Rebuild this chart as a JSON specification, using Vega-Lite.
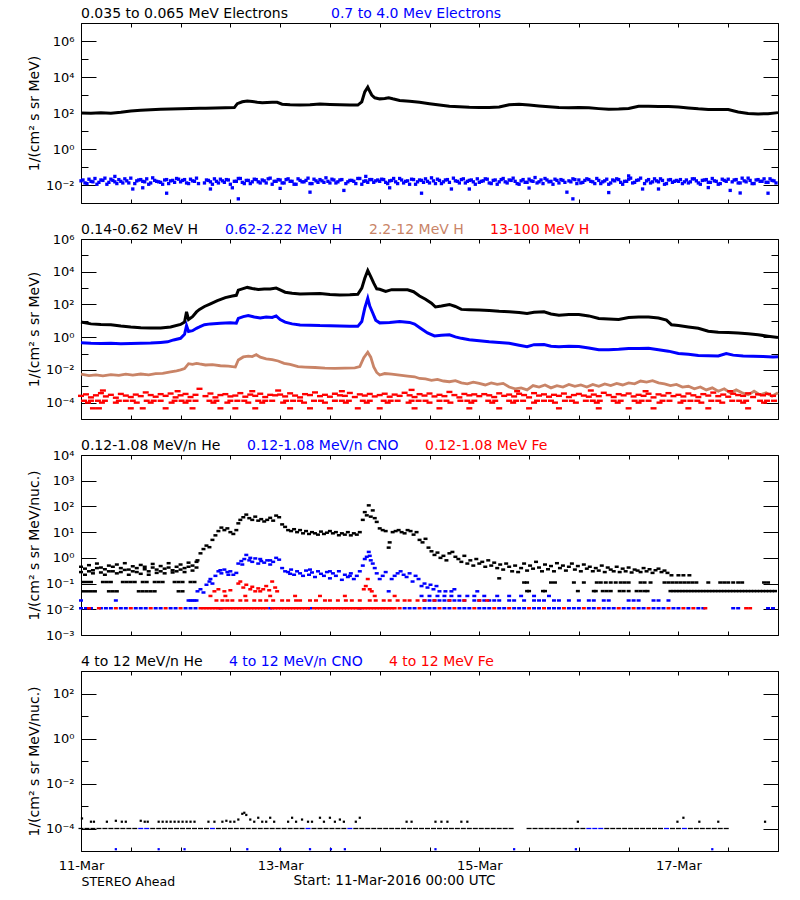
{
"$schema": "https://vega.github.io/schema/vega-lite/v6.json",
"background": "white",
"padding": {"left": 26, "top": 6, "right": 5, "bottom": 0},
"bounds": "flush",
"spacing": 36,
"title": {"text": "Start: 11-Mar-2016 00:00 UTC", "orient": "bottom", "anchor": "start", "frame": "bounds", "dx": 267, "offset": -14, "fontSize": 13.5, "fontWeight": "normal", "font": "DejaVu Sans", "color": "black", "baseline": "top"},
"resolve": {"scale": {"color": "independent"}, "legend": {"color": "independent"}},
"config": {
  "view": {"stroke": "black", "strokeWidth": 1},
  "font": "DejaVu Sans",
  "axis": {"domain": false, "grid": false, "tickColor": "black", "tickWidth": 1, "labelColor": "black", "titleColor": "black", "labelFont": "DejaVu Sans", "titleFont": "DejaVu Sans", "titleFontWeight": "normal", "labelFontSize": 13, "titleFontSize": 14, "labelOverlap": false}
},
"datasets": {
"e1": [{"t":0,"v":100},{"t":0.1,"v":98},{"t":0.2,"v":102},{"t":0.3,"v":97},{"t":0.4,"v":110},{"t":0.5,"v":130},{"t":0.6,"v":140},{"t":0.7,"v":152},{"t":0.8,"v":160},{"t":0.9,"v":168},{"t":1.0,"v":174},{"t":1.1,"v":178},{"t":1.19,"v":182},{"t":1.25,"v":185},{"t":1.35,"v":190},{"t":1.45,"v":195},{"t":1.54,"v":200},{"t":1.57,"v":330},{"t":1.62,"v":420},{"t":1.67,"v":470},{"t":1.72,"v":440},{"t":1.77,"v":400},{"t":1.82,"v":370},{"t":1.87,"v":380},{"t":1.92,"v":395},{"t":1.97,"v":390},{"t":2.02,"v":310},{"t":2.1,"v":290},{"t":2.2,"v":275},{"t":2.3,"v":290},{"t":2.4,"v":315},{"t":2.5,"v":300},{"t":2.6,"v":290},{"t":2.7,"v":280},{"t":2.78,"v":275},{"t":2.82,"v":420},{"t":2.85,"v":1500},{"t":2.88,"v":2750},{"t":2.9,"v":1600},{"t":2.92,"v":1000},{"t":2.95,"v":700},{"t":3.0,"v":610},{"t":3.05,"v":640},{"t":3.09,"v":710},{"t":3.13,"v":620},{"t":3.2,"v":500},{"t":3.3,"v":450},{"t":3.4,"v":400},{"t":3.5,"v":330},{"t":3.6,"v":280},{"t":3.7,"v":240},{"t":3.8,"v":225},{"t":3.9,"v":210},{"t":4.0,"v":205},{"t":4.1,"v":205},{"t":4.2,"v":215},{"t":4.3,"v":290},{"t":4.4,"v":310},{"t":4.5,"v":280},{"t":4.6,"v":245},{"t":4.7,"v":220},{"t":4.8,"v":200},{"t":4.9,"v":198},{"t":5.0,"v":200},{"t":5.1,"v":195},{"t":5.2,"v":175},{"t":5.3,"v":160},{"t":5.4,"v":165},{"t":5.5,"v":178},{"t":5.6,"v":235},{"t":5.7,"v":240},{"t":5.8,"v":232},{"t":5.9,"v":230},{"t":6.0,"v":215},{"t":6.1,"v":190},{"t":6.2,"v":170},{"t":6.3,"v":158},{"t":6.4,"v":155},{"t":6.5,"v":156},{"t":6.6,"v":115},{"t":6.7,"v":95},{"t":6.8,"v":88},{"t":6.9,"v":92},{"t":7.0,"v":105}],
"e2": [{"t":0,"v":0.017},{"t":0.04,"v":0.013},{"t":0.08,"v":0.021},{"t":0.12,"v":0.015},{"t":0.16,"v":0.011},{"t":0.2,"v":0.019},{"t":0.24,"v":0.024},{"t":0.28,"v":0.014},{"t":0.32,"v":0.018},{"t":0.36,"v":0.012},{"t":0.4,"v":0.016},{"t":0.44,"v":0.022},{"t":0.48,"v":0.013},{"t":0.52,"v":0.006},{"t":0.56,"v":0.017},{"t":0.6,"v":0.02},{"t":0.64,"v":0.015},{"t":0.68,"v":0.011},{"t":0.72,"v":0.025},{"t":0.76,"v":0.016},{"t":0.8,"v":0.014},{"t":0.84,"v":0.019},{"t":0.88,"v":0.012},{"t":0.92,"v":0.018},{"t":0.96,"v":0.023},
{"t":1.0,"v":0.015},{"t":1.04,"v":0.02},{"t":1.08,"v":0.012},{"t":1.12,"v":0.017},{"t":1.16,"v":0.024},{"t":1.24,"v":0.013},{"t":1.28,"v":0.018},{"t":1.32,"v":0.011},{"t":1.36,"v":0.016},{"t":1.4,"v":0.021},{"t":1.44,"v":0.014},{"t":1.48,"v":0.019},{"t":1.52,"v":0.007},{"t":1.56,"v":0.016},{"t":1.6,"v":0.023},{"t":1.64,"v":0.012},{"t":1.68,"v":0.018},{"t":1.72,"v":0.015},{"t":1.76,"v":0.02},{"t":1.8,"v":0.013},{"t":1.84,"v":0.017},{"t":1.88,"v":0.022},{"t":1.92,"v":0.011},{"t":1.96,"v":0.016},
{"t":2.0,"v":0.019},{"t":2.04,"v":0.013},{"t":2.08,"v":0.022},{"t":2.12,"v":0.016},{"t":2.16,"v":0.011},{"t":2.2,"v":0.018},{"t":2.24,"v":0.015},{"t":2.28,"v":0.024},{"t":2.32,"v":0.012},{"t":2.36,"v":0.017},{"t":2.4,"v":0.02},{"t":2.44,"v":0.014},{"t":2.48,"v":0.016},{"t":2.52,"v":0.021},{"t":2.56,"v":0.013},{"t":2.6,"v":0.019},{"t":2.64,"v":0.005},{"t":2.68,"v":0.015},{"t":2.72,"v":0.018},{"t":2.76,"v":0.012},{"t":2.8,"v":0.023},{"t":2.84,"v":0.016},{"t":2.88,"v":0.014},{"t":2.92,"v":0.02},{"t":2.96,"v":0.017},
{"t":3.0,"v":0.016},{"t":3.04,"v":0.02},{"t":3.08,"v":0.012},{"t":3.12,"v":0.018},{"t":3.16,"v":0.015},{"t":3.2,"v":0.023},{"t":3.24,"v":0.013},{"t":3.28,"v":0.017},{"t":3.32,"v":0.021},{"t":3.36,"v":0.011},{"t":3.4,"v":0.019},{"t":3.44,"v":0.014},{"t":3.48,"v":0.016},{"t":3.52,"v":0.025},{"t":3.56,"v":0.012},{"t":3.6,"v":0.018},{"t":3.64,"v":0.015},{"t":3.68,"v":0.02},{"t":3.72,"v":0.006},{"t":3.76,"v":0.017},{"t":3.8,"v":0.013},{"t":3.84,"v":0.022},{"t":3.88,"v":0.016},{"t":3.92,"v":0.019},{"t":3.96,"v":0.011},
{"t":4.0,"v":0.014},{"t":4.04,"v":0.017},{"t":4.08,"v":0.021},{"t":4.12,"v":0.012},{"t":4.16,"v":0.019},{"t":4.2,"v":0.015},{"t":4.24,"v":0.023},{"t":4.28,"v":0.013},{"t":4.32,"v":0.018},{"t":4.36,"v":0.016},{"t":4.4,"v":0.011},{"t":4.44,"v":0.02},{"t":4.48,"v":0.014},{"t":4.52,"v":0.017},{"t":4.56,"v":0.026},{"t":4.6,"v":0.015},{"t":4.64,"v":0.012},{"t":4.68,"v":0.019},{"t":4.72,"v":0.016},{"t":4.76,"v":0.021},{"t":4.8,"v":0.013},{"t":4.84,"v":0.018},{"t":4.88,"v":0.004},{"t":4.92,"v":0.015},{"t":4.96,"v":0.02},
{"t":5.0,"v":0.019},{"t":5.04,"v":0.014},{"t":5.08,"v":0.022},{"t":5.12,"v":0.016},{"t":5.16,"v":0.012},{"t":5.2,"v":0.018},{"t":5.24,"v":0.015},{"t":5.28,"v":0.021},{"t":5.32,"v":0.013},{"t":5.36,"v":0.017},{"t":5.4,"v":0.02},{"t":5.44,"v":0.011},{"t":5.48,"v":0.016},{"t":5.52,"v":0.024},{"t":5.56,"v":0.014},{"t":5.6,"v":0.019},{"t":5.64,"v":0.006},{"t":5.68,"v":0.017},{"t":5.72,"v":0.013},{"t":5.76,"v":0.022},{"t":5.8,"v":0.015},{"t":5.84,"v":0.018},{"t":5.88,"v":0.012},{"t":5.92,"v":0.02},{"t":5.96,"v":0.016},
{"t":6.0,"v":0.016},{"t":6.04,"v":0.012},{"t":6.08,"v":0.019},{"t":6.12,"v":0.015},{"t":6.16,"v":0.022},{"t":6.2,"v":0.013},{"t":6.24,"v":0.018},{"t":6.28,"v":0.02},{"t":6.32,"v":0.014},{"t":6.36,"v":0.017},{"t":6.4,"v":0.011},{"t":6.44,"v":0.021},{"t":6.48,"v":0.016},{"t":6.52,"v":0.005},{"t":6.56,"v":0.019},{"t":6.6,"v":0.013},{"t":6.64,"v":0.024},{"t":6.68,"v":0.015},{"t":6.72,"v":0.018},{"t":6.76,"v":0.012},{"t":6.8,"v":0.02},{"t":6.84,"v":0.016},{"t":6.88,"v":0.014},{"t":6.92,"v":0.022},{"t":6.96,"v":0.017},
{"t":0.02,"v":0.019},{"t":0.06,"v":0.012},{"t":0.1,"v":0.016},{"t":0.14,"v":0.023},{"t":0.18,"v":0.014},{"t":0.22,"v":0.018},{"t":0.26,"v":0.011},{"t":0.3,"v":0.021},{"t":0.34,"v":0.015},{"t":0.38,"v":0.02},{"t":0.42,"v":0.013},{"t":0.46,"v":0.017},{"t":0.5,"v":0.024},{"t":0.54,"v":0.012},{"t":0.58,"v":0.019},{"t":0.62,"v":0.016},{"t":0.66,"v":0.022},{"t":0.7,"v":0.013},{"t":0.74,"v":0.018},{"t":0.78,"v":0.015},{"t":0.82,"v":0.011},{"t":0.86,"v":0.02},{"t":0.9,"v":0.017},{"t":0.94,"v":0.014},{"t":0.98,"v":0.021},
{"t":1.02,"v":0.018},{"t":1.06,"v":0.013},{"t":1.1,"v":0.021},{"t":1.14,"v":0.016},{"t":1.18,"v":0.012},{"t":1.26,"v":0.019},{"t":1.3,"v":0.015},{"t":1.34,"v":0.022},{"t":1.38,"v":0.013},{"t":1.42,"v":0.017},{"t":1.46,"v":0.02},{"t":1.5,"v":0.011},{"t":1.54,"v":0.016},{"t":1.58,"v":0.023},{"t":1.62,"v":0.014},{"t":1.66,"v":0.018},{"t":1.7,"v":0.012},{"t":1.74,"v":0.021},{"t":1.78,"v":0.015},{"t":1.82,"v":0.019},{"t":1.86,"v":0.013},{"t":1.9,"v":0.024},{"t":1.94,"v":0.016},{"t":1.98,"v":0.02},
{"t":2.02,"v":0.013},{"t":2.06,"v":0.02},{"t":2.1,"v":0.016},{"t":2.14,"v":0.011},{"t":2.18,"v":0.022},{"t":2.22,"v":0.015},{"t":2.26,"v":0.018},{"t":2.3,"v":0.012},{"t":2.34,"v":0.021},{"t":2.38,"v":0.014},{"t":2.42,"v":0.017},{"t":2.46,"v":0.025},{"t":2.5,"v":0.013},{"t":2.54,"v":0.019},{"t":2.58,"v":0.015},{"t":2.62,"v":0.02},{"t":2.66,"v":0.012},{"t":2.7,"v":0.018},{"t":2.74,"v":0.016},{"t":2.78,"v":0.023},{"t":2.82,"v":0.011},{"t":2.86,"v":0.017},{"t":2.9,"v":0.02},{"t":2.94,"v":0.014},{"t":2.98,"v":0.019},
{"t":3.02,"v":0.021},{"t":3.06,"v":0.014},{"t":3.1,"v":0.017},{"t":3.14,"v":0.023},{"t":3.18,"v":0.012},{"t":3.22,"v":0.019},{"t":3.26,"v":0.016},{"t":3.3,"v":0.011},{"t":3.34,"v":0.02},{"t":3.38,"v":0.015},{"t":3.42,"v":0.018},{"t":3.46,"v":0.022},{"t":3.5,"v":0.013},{"t":3.54,"v":0.017},{"t":3.58,"v":0.021},{"t":3.62,"v":0.012},{"t":3.66,"v":0.019},{"t":3.7,"v":0.014},{"t":3.74,"v":0.024},{"t":3.78,"v":0.016},{"t":3.82,"v":0.02},{"t":3.86,"v":0.013},{"t":3.9,"v":0.018},{"t":3.94,"v":0.015},{"t":3.98,"v":0.022},
{"t":4.02,"v":0.016},{"t":4.06,"v":0.022},{"t":4.1,"v":0.013},{"t":4.14,"v":0.018},{"t":4.18,"v":0.011},{"t":4.22,"v":0.02},{"t":4.26,"v":0.015},{"t":4.3,"v":0.019},{"t":4.34,"v":0.024},{"t":4.38,"v":0.012},{"t":4.42,"v":0.017},{"t":4.46,"v":0.014},{"t":4.5,"v":0.021},{"t":4.54,"v":0.016},{"t":4.58,"v":0.013},{"t":4.62,"v":0.019},{"t":4.66,"v":0.023},{"t":4.7,"v":0.015},{"t":4.74,"v":0.011},{"t":4.78,"v":0.018},{"t":4.82,"v":0.02},{"t":4.86,"v":0.014},{"t":4.9,"v":0.017},{"t":4.94,"v":0.022},{"t":4.98,"v":0.012},
{"t":5.02,"v":0.013},{"t":5.06,"v":0.018},{"t":5.1,"v":0.02},{"t":5.14,"v":0.015},{"t":5.18,"v":0.023},{"t":5.22,"v":0.012},{"t":5.26,"v":0.017},{"t":5.3,"v":0.011},{"t":5.34,"v":0.019},{"t":5.38,"v":0.022},{"t":5.42,"v":0.014},{"t":5.46,"v":0.016},{"t":5.5,"v":0.021},{"t":5.54,"v":0.013},{"t":5.58,"v":0.018},{"t":5.62,"v":0.024},{"t":5.66,"v":0.012},{"t":5.7,"v":0.02},{"t":5.74,"v":0.015},{"t":5.78,"v":0.017},{"t":5.82,"v":0.022},{"t":5.86,"v":0.011},{"t":5.9,"v":0.019},{"t":5.94,"v":0.014},{"t":5.98,"v":0.018},
{"t":6.02,"v":0.02},{"t":6.06,"v":0.015},{"t":6.1,"v":0.013},{"t":6.14,"v":0.022},{"t":6.18,"v":0.017},{"t":6.22,"v":0.011},{"t":6.26,"v":0.019},{"t":6.3,"v":0.014},{"t":6.34,"v":0.023},{"t":6.38,"v":0.016},{"t":6.42,"v":0.012},{"t":6.46,"v":0.018},{"t":6.5,"v":0.021},{"t":6.54,"v":0.015},{"t":6.58,"v":0.02},{"t":6.62,"v":0.013},{"t":6.66,"v":0.017},{"t":6.7,"v":0.024},{"t":6.74,"v":0.012},{"t":6.78,"v":0.019},{"t":6.82,"v":0.016},{"t":6.86,"v":0.022},{"t":6.9,"v":0.014},{"t":6.94,"v":0.018},{"t":6.98,"v":0.013},
{"t":0.34,"v":0.03},{"t":0.86,"v":0.0035},{"t":1.58,"v":0.0017},{"t":2.3,"v":0.004},{"t":2.86,"v":0.03},{"t":3.42,"v":0.0035},{"t":4.94,"v":0.0017},{"t":5.3,"v":0.0038},{"t":5.5,"v":0.032},{"t":6.62,"v":0.0036},{"t":6.9,"v":0.0035},{"t":0.62,"v":0.007},{"t":1.3,"v":0.006},{"t":2.0,"v":0.0065},{"t":3.1,"v":0.007},{"t":3.9,"v":0.006},{"t":4.5,"v":0.0068},{"t":5.8,"v":0.006},{"t":6.3,"v":0.0072}],
"h1": [{"t":0,"v":8.5},{"t":0.1,"v":6.5},{"t":0.2,"v":6},{"t":0.3,"v":5.8},{"t":0.4,"v":4.8},{"t":0.5,"v":4.2},{"t":0.6,"v":3.8},{"t":0.7,"v":3.6},{"t":0.8,"v":3.7},{"t":0.9,"v":4.2},{"t":1.0,"v":6},{"t":1.04,"v":8.5},{"t":1.06,"v":35},{"t":1.08,"v":12},{"t":1.12,"v":18},{"t":1.16,"v":35},{"t":1.19,"v":50},{"t":1.24,"v":75},{"t":1.3,"v":110},{"t":1.37,"v":170},{"t":1.45,"v":260},{"t":1.52,"v":330},{"t":1.56,"v":360},{"t":1.58,"v":750},{"t":1.62,"v":900},{"t":1.67,"v":1100},{"t":1.72,"v":950},{"t":1.78,"v":820},{"t":1.84,"v":880},{"t":1.9,"v":870},{"t":1.96,"v":1000},{"t":2.0,"v":780},{"t":2.05,"v":560},{"t":2.12,"v":480},{"t":2.2,"v":430},{"t":2.3,"v":450},{"t":2.4,"v":470},{"t":2.5,"v":400},{"t":2.6,"v":380},{"t":2.7,"v":390},{"t":2.78,"v":420},{"t":2.82,"v":1000},{"t":2.85,"v":4000},{"t":2.88,"v":12000},{"t":2.91,"v":5000},{"t":2.94,"v":2000},{"t":2.97,"v":900},{"t":3.0,"v":850},{"t":3.06,"v":620},{"t":3.12,"v":800},{"t":3.2,"v":780},{"t":3.28,"v":780},{"t":3.34,"v":600},{"t":3.4,"v":330},{"t":3.46,"v":210},{"t":3.52,"v":120},{"t":3.56,"v":70},{"t":3.62,"v":80},{"t":3.7,"v":100},{"t":3.76,"v":75},{"t":3.82,"v":50},{"t":3.9,"v":48},{"t":4.0,"v":46},{"t":4.1,"v":42},{"t":4.2,"v":38},{"t":4.3,"v":36},{"t":4.4,"v":32},{"t":4.48,"v":28},{"t":4.55,"v":33},{"t":4.65,"v":36},{"t":4.72,"v":26},{"t":4.8,"v":22},{"t":4.9,"v":24},{"t":5.0,"v":24},{"t":5.1,"v":20},{"t":5.2,"v":14},{"t":5.3,"v":13},{"t":5.4,"v":12},{"t":5.5,"v":16},{"t":5.6,"v":17},{"t":5.7,"v":17},{"t":5.8,"v":15},{"t":5.88,"v":11},{"t":5.93,"v":5.8},{"t":6.0,"v":5.2},{"t":6.1,"v":4.2},{"t":6.2,"v":3.5},{"t":6.3,"v":2.3},{"t":6.4,"v":2.0},{"t":6.5,"v":1.9},{"t":6.6,"v":1.8},{"t":6.7,"v":1.6},{"t":6.8,"v":1.4},{"t":6.9,"v":1.15},{"t":7.0,"v":0.95}],
"h2": [{"t":0,"v":0.45},{"t":0.1,"v":0.42},{"t":0.2,"v":0.41},{"t":0.3,"v":0.42},{"t":0.4,"v":0.4},{"t":0.5,"v":0.41},{"t":0.6,"v":0.43},{"t":0.7,"v":0.44},{"t":0.8,"v":0.48},{"t":0.87,"v":0.52},{"t":0.93,"v":0.68},{"t":1.0,"v":0.85},{"t":1.04,"v":1.5},{"t":1.06,"v":5},{"t":1.08,"v":2.2},{"t":1.12,"v":2.5},{"t":1.16,"v":3.5},{"t":1.19,"v":4.2},{"t":1.24,"v":5.8},{"t":1.3,"v":6.5},{"t":1.4,"v":7.2},{"t":1.5,"v":7.5},{"t":1.56,"v":7.2},{"t":1.58,"v":14},{"t":1.63,"v":18},{"t":1.68,"v":21},{"t":1.74,"v":17},{"t":1.8,"v":15},{"t":1.86,"v":17},{"t":1.92,"v":16},{"t":1.96,"v":20},{"t":2.0,"v":12},{"t":2.05,"v":8.3},{"t":2.12,"v":6.5},{"t":2.2,"v":5.6},{"t":2.3,"v":5.4},{"t":2.4,"v":5.1},{"t":2.5,"v":5.0},{"t":2.6,"v":4.8},{"t":2.7,"v":4.7},{"t":2.78,"v":4.6},{"t":2.82,"v":9},{"t":2.85,"v":60},{"t":2.88,"v":240},{"t":2.9,"v":80},{"t":2.93,"v":30},{"t":2.96,"v":11},{"t":3.0,"v":7.5},{"t":3.1,"v":8},{"t":3.2,"v":9},{"t":3.3,"v":8},{"t":3.35,"v":6.3},{"t":3.41,"v":3.5},{"t":3.48,"v":1.8},{"t":3.55,"v":1.2},{"t":3.62,"v":1.3},{"t":3.7,"v":1.4},{"t":3.76,"v":1.05},{"t":3.82,"v":0.85},{"t":3.9,"v":0.7},{"t":4.0,"v":0.6},{"t":4.1,"v":0.52},{"t":4.2,"v":0.47},{"t":4.3,"v":0.42},{"t":4.4,"v":0.32},{"t":4.48,"v":0.26},{"t":4.55,"v":0.35},{"t":4.65,"v":0.36},{"t":4.72,"v":0.28},{"t":4.8,"v":0.26},{"t":4.9,"v":0.28},{"t":5.0,"v":0.27},{"t":5.1,"v":0.22},{"t":5.2,"v":0.17},{"t":5.3,"v":0.17},{"t":5.4,"v":0.18},{"t":5.5,"v":0.2},{"t":5.6,"v":0.2},{"t":5.7,"v":0.21},{"t":5.8,"v":0.17},{"t":5.9,"v":0.14},{"t":6.0,"v":0.1},{"t":6.1,"v":0.09},{"t":6.2,"v":0.075},{"t":6.3,"v":0.074},{"t":6.4,"v":0.072},{"t":6.48,"v":0.1},{"t":6.55,"v":0.08},{"t":6.65,"v":0.07},{"t":6.75,"v":0.068},{"t":6.85,"v":0.065},{"t":6.95,"v":0.062},{"t":7.0,"v":0.063}],
"h3": [{"t":0,"v":0.0055},{"t":0.08,"v":0.0045},{"t":0.15,"v":0.005},{"t":0.22,"v":0.0043},{"t":0.3,"v":0.0052},{"t":0.38,"v":0.0046},{"t":0.45,"v":0.0055},{"t":0.52,"v":0.0048},{"t":0.6,"v":0.0056},{"t":0.68,"v":0.005},{"t":0.75,"v":0.006},{"t":0.82,"v":0.0062},{"t":0.9,"v":0.0075},{"t":0.96,"v":0.0088},{"t":1.0,"v":0.01},{"t":1.04,"v":0.012},{"t":1.08,"v":0.024},{"t":1.12,"v":0.022},{"t":1.16,"v":0.025},{"t":1.19,"v":0.023},{"t":1.25,"v":0.02},{"t":1.32,"v":0.021},{"t":1.4,"v":0.018},{"t":1.48,"v":0.017},{"t":1.55,"v":0.015},{"t":1.58,"v":0.04},{"t":1.63,"v":0.062},{"t":1.68,"v":0.07},{"t":1.72,"v":0.065},{"t":1.76,"v":0.085},{"t":1.8,"v":0.06},{"t":1.86,"v":0.048},{"t":1.92,"v":0.042},{"t":1.98,"v":0.035},{"t":2.04,"v":0.025},{"t":2.1,"v":0.022},{"t":2.18,"v":0.016},{"t":2.25,"v":0.015},{"t":2.35,"v":0.014},{"t":2.45,"v":0.013},{"t":2.55,"v":0.0125},{"t":2.65,"v":0.013},{"t":2.75,"v":0.0135},{"t":2.8,"v":0.016},{"t":2.84,"v":0.055},{"t":2.88,"v":0.12},{"t":2.91,"v":0.06},{"t":2.94,"v":0.015},{"t":2.97,"v":0.007},{"t":3.0,"v":0.0049},{"t":3.05,"v":0.006},{"t":3.12,"v":0.0055},{"t":3.2,"v":0.0048},{"t":3.28,"v":0.0042},{"t":3.35,"v":0.0038},{"t":3.4,"v":0.003},{"t":3.46,"v":0.0028},{"t":3.52,"v":0.0023},{"t":3.58,"v":0.0026},{"t":3.64,"v":0.0021},{"t":3.7,"v":0.0019},{"t":3.76,"v":0.0022},{"t":3.82,"v":0.0016},{"t":3.88,"v":0.0014},{"t":3.94,"v":0.0018},{"t":4.0,"v":0.0015},{"t":4.06,"v":0.0012},{"t":4.12,"v":0.0016},{"t":4.18,"v":0.0013},{"t":4.24,"v":0.0015},{"t":4.3,"v":0.0009},{"t":4.36,"v":0.0007},{"t":4.42,"v":0.0008},{"t":4.48,"v":0.0006},{"t":4.54,"v":0.0011},{"t":4.6,"v":0.0009},{"t":4.66,"v":0.0012},{"t":4.72,"v":0.0008},{"t":4.78,"v":0.0011},{"t":4.84,"v":0.0009},{"t":4.9,"v":0.0013},{"t":4.96,"v":0.001},{"t":5.02,"v":0.0012},{"t":5.08,"v":0.0009},{"t":5.14,"v":0.0013},{"t":5.2,"v":0.001},{"t":5.26,"v":0.0014},{"t":5.32,"v":0.0011},{"t":5.38,"v":0.0015},{"t":5.44,"v":0.0012},{"t":5.5,"v":0.0016},{"t":5.56,"v":0.0014},{"t":5.62,"v":0.0021},{"t":5.68,"v":0.0018},{"t":5.74,"v":0.0022},{"t":5.8,"v":0.0016},{"t":5.86,"v":0.0014},{"t":5.92,"v":0.0011},{"t":5.98,"v":0.0013},{"t":6.04,"v":0.0009},{"t":6.1,"v":0.001},{"t":6.16,"v":0.0007},{"t":6.22,"v":0.0009},{"t":6.28,"v":0.0006},{"t":6.34,"v":0.0008},{"t":6.4,"v":0.0005},{"t":6.46,"v":0.0007},{"t":6.52,"v":0.0004},{"t":6.58,"v":0.0006},{"t":6.64,"v":0.0004},{"t":6.7,"v":0.0003},{"t":6.76,"v":0.0005},{"t":6.82,"v":0.0003},{"t":6.88,"v":0.0004},{"t":6.94,"v":0.00025},{"t":7.0,"v":0.0004}],
"h4": [{"t":0,"v":2.6e-4},{"t":0.05,"v":3.2e-4},{"t":0.1,"v":2.1e-4},{"t":0.15,"v":2.8e-4},{"t":0.2,"v":3.8e-4},{"t":0.25,"v":2.4e-4},{"t":0.3,"v":3e-4},{"t":0.35,"v":2e-4},{"t":0.4,"v":3.4e-4},{"t":0.45,"v":2.7e-4},{"t":0.5,"v":2.2e-4},{"t":0.55,"v":3.1e-4},{"t":0.6,"v":2.5e-4},{"t":0.65,"v":4.2e-4},{"t":0.7,"v":2.9e-4},{"t":0.75,"v":2.3e-4},{"t":0.8,"v":3.3e-4},{"t":0.85,"v":2.6e-4},{"t":0.9,"v":3.6e-4},{"t":0.95,"v":2.1e-4},
{"t":1.0,"v":2.8e-4},{"t":1.05,"v":3.4e-4},{"t":1.1,"v":2.2e-4},{"t":1.15,"v":3e-4},{"t":1.19,"v":7e-4},{"t":1.25,"v":2.5e-4},{"t":1.3,"v":3.6e-4},{"t":1.35,"v":2.1e-4},{"t":1.4,"v":2.9e-4},{"t":1.45,"v":3.3e-4},{"t":1.5,"v":2.4e-4},{"t":1.55,"v":2.7e-4},{"t":1.6,"v":3.8e-4},{"t":1.65,"v":2.3e-4},{"t":1.7,"v":3.1e-4},{"t":1.75,"v":2.6e-4},{"t":1.8,"v":3.5e-4},{"t":1.85,"v":2.2e-4},{"t":1.9,"v":3e-4},{"t":1.95,"v":2.8e-4},
{"t":2.0,"v":3.1e-4},{"t":2.05,"v":2.4e-4},{"t":2.1,"v":3.7e-4},{"t":2.15,"v":2.7e-4},{"t":2.2,"v":2.1e-4},{"t":2.25,"v":3.3e-4},{"t":2.3,"v":2.9e-4},{"t":2.35,"v":4.2e-4},{"t":2.4,"v":2.5e-4},{"t":2.45,"v":3e-4},{"t":2.5,"v":2.3e-4},{"t":2.55,"v":3.5e-4},{"t":2.6,"v":2.8e-4},{"t":2.65,"v":2.6e-4},{"t":2.7,"v":3.9e-4},{"t":2.75,"v":2.2e-4},{"t":2.8,"v":3.2e-4},{"t":2.85,"v":2.7e-4},{"t":2.9,"v":3.4e-4},{"t":2.95,"v":2.4e-4},
{"t":3.0,"v":2.9e-4},{"t":3.05,"v":3.5e-4},{"t":3.1,"v":2.3e-4},{"t":3.15,"v":3.1e-4},{"t":3.2,"v":2.6e-4},{"t":3.25,"v":4e-4},{"t":3.3,"v":2.8e-4},{"t":3.35,"v":2.2e-4},{"t":3.4,"v":3.3e-4},{"t":3.45,"v":2.7e-4},{"t":3.5,"v":3.6e-4},{"t":3.55,"v":2.4e-4},{"t":3.6,"v":3e-4},{"t":3.65,"v":2.5e-4},{"t":3.7,"v":4.5e-4},{"t":3.75,"v":2.9e-4},{"t":3.8,"v":2.1e-4},{"t":3.85,"v":3.4e-4},{"t":3.9,"v":2.8e-4},{"t":3.95,"v":3.2e-4},
{"t":4.0,"v":2.5e-4},{"t":4.05,"v":3.3e-4},{"t":4.1,"v":2.8e-4},{"t":4.15,"v":2.2e-4},{"t":4.2,"v":3.7e-4},{"t":4.25,"v":2.6e-4},{"t":4.3,"v":3.1e-4},{"t":4.35,"v":2.4e-4},{"t":4.4,"v":3.5e-4},{"t":4.45,"v":2.9e-4},{"t":4.5,"v":2.1e-4},{"t":4.55,"v":3.8e-4},{"t":4.6,"v":2.7e-4},{"t":4.65,"v":3.2e-4},{"t":4.7,"v":2.3e-4},{"t":4.75,"v":3e-4},{"t":4.8,"v":2.6e-4},{"t":4.85,"v":3.6e-4},{"t":4.9,"v":2.2e-4},{"t":4.95,"v":2.9e-4},
{"t":5.0,"v":3.4e-4},{"t":5.05,"v":2.7e-4},{"t":5.1,"v":2.3e-4},{"t":5.15,"v":3.1e-4},{"t":5.2,"v":2.5e-4},{"t":5.25,"v":4e-4},{"t":5.3,"v":2.9e-4},{"t":5.35,"v":2.2e-4},{"t":5.4,"v":3.3e-4},{"t":5.45,"v":2.8e-4},{"t":5.5,"v":3.6e-4},{"t":5.55,"v":2.4e-4},{"t":5.6,"v":3e-4},{"t":5.65,"v":2.6e-4},{"t":5.7,"v":3.5e-4},{"t":5.75,"v":2.1e-4},{"t":5.8,"v":3.2e-4},{"t":5.85,"v":2.7e-4},{"t":5.9,"v":3.8e-4},{"t":5.95,"v":2.5e-4},
{"t":6.0,"v":3e-4},{"t":6.05,"v":2.4e-4},{"t":6.1,"v":3.6e-4},{"t":6.15,"v":2.8e-4},{"t":6.2,"v":2.2e-4},{"t":6.25,"v":3.3e-4},{"t":6.3,"v":2.7e-4},{"t":6.35,"v":4.1e-4},{"t":6.4,"v":2.5e-4},{"t":6.45,"v":3.1e-4},{"t":6.5,"v":2.3e-4},{"t":6.55,"v":3.5e-4},{"t":6.6,"v":2.9e-4},{"t":6.65,"v":2.6e-4},{"t":6.7,"v":3.7e-4},{"t":6.75,"v":2.2e-4},{"t":6.8,"v":3.2e-4},{"t":6.85,"v":2.8e-4},{"t":6.9,"v":3.4e-4},{"t":6.95,"v":2.6e-4},
{"t":0.22,"v":5.5e-4},{"t":0.97,"v":5e-4},{"t":1.72,"v":5e-4},{"t":1.98,"v":5.5e-4},{"t":2.62,"v":5e-4},{"t":3.32,"v":6e-4},{"t":4.38,"v":5e-4},{"t":5.12,"v":5.5e-4},{"t":5.67,"v":5e-4},{"t":6.52,"v":5e-4},
{"t":0.03,"v":1.3e-4},{"t":0.1,"v":1.3e-4},{"t":0.17,"v":1.3e-4},{"t":0.24,"v":1.3e-4},{"t":0.38,"v":1.3e-4},{"t":0.45,"v":1.3e-4},{"t":0.52,"v":1.3e-4},{"t":0.66,"v":1.3e-4},{"t":0.73,"v":1.3e-4},{"t":0.8,"v":1.3e-4},{"t":0.94,"v":1.3e-4},{"t":1.01,"v":1.3e-4},{"t":1.08,"v":1.3e-4},{"t":1.15,"v":1.3e-4},{"t":1.29,"v":1.3e-4},{"t":1.36,"v":1.3e-4},{"t":1.5,"v":1.3e-4},{"t":1.57,"v":1.3e-4},{"t":1.64,"v":1.3e-4},{"t":1.78,"v":1.3e-4},{"t":1.85,"v":1.3e-4},{"t":1.92,"v":1.3e-4},{"t":2.06,"v":1.3e-4},{"t":2.13,"v":1.3e-4},{"t":2.2,"v":1.3e-4},{"t":2.34,"v":1.3e-4},{"t":2.41,"v":1.3e-4},{"t":2.55,"v":1.3e-4},{"t":2.62,"v":1.3e-4},{"t":2.69,"v":1.3e-4},{"t":2.83,"v":1.3e-4},{"t":2.9,"v":1.3e-4},{"t":3.04,"v":1.3e-4},{"t":3.11,"v":1.3e-4},{"t":3.18,"v":1.3e-4},{"t":3.32,"v":1.3e-4},{"t":3.39,"v":1.3e-4},{"t":3.46,"v":1.3e-4},{"t":3.6,"v":1.3e-4},{"t":3.67,"v":1.3e-4},{"t":3.81,"v":1.3e-4},{"t":3.88,"v":1.3e-4},{"t":3.95,"v":1.3e-4},{"t":4.09,"v":1.3e-4},{"t":4.16,"v":1.3e-4},{"t":4.3,"v":1.3e-4},{"t":4.37,"v":1.3e-4},{"t":4.44,"v":1.3e-4},{"t":4.58,"v":1.3e-4},{"t":4.65,"v":1.3e-4},{"t":4.72,"v":1.3e-4},{"t":4.86,"v":1.3e-4},{"t":4.93,"v":1.3e-4},{"t":5.07,"v":1.3e-4},{"t":5.14,"v":1.3e-4},{"t":5.21,"v":1.3e-4},{"t":5.35,"v":1.3e-4},{"t":5.42,"v":1.3e-4},{"t":5.56,"v":1.3e-4},{"t":5.63,"v":1.3e-4},{"t":5.7,"v":1.3e-4},{"t":5.84,"v":1.3e-4},{"t":5.91,"v":1.3e-4},{"t":6.05,"v":1.3e-4},{"t":6.12,"v":1.3e-4},{"t":6.19,"v":1.3e-4},{"t":6.33,"v":1.3e-4},{"t":6.4,"v":1.3e-4},{"t":6.54,"v":1.3e-4},{"t":6.61,"v":1.3e-4},{"t":6.68,"v":1.3e-4},{"t":6.82,"v":1.3e-4},{"t":6.89,"v":1.3e-4},{"t":6.96,"v":1.3e-4},
{"t":0.07,"v":1e-4},{"t":0.21,"v":1e-4},{"t":0.35,"v":1e-4},{"t":0.56,"v":1e-4},{"t":0.7,"v":1e-4},{"t":0.91,"v":1e-4},{"t":1.05,"v":1e-4},{"t":1.33,"v":1e-4},{"t":1.47,"v":1e-4},{"t":1.68,"v":1e-4},{"t":1.82,"v":1e-4},{"t":2.03,"v":1e-4},{"t":2.24,"v":1e-4},{"t":2.45,"v":1e-4},{"t":2.66,"v":1e-4},{"t":2.87,"v":1e-4},{"t":3.08,"v":1e-4},{"t":3.29,"v":1e-4},{"t":3.5,"v":1e-4},{"t":3.71,"v":1e-4},{"t":3.92,"v":1e-4},{"t":4.13,"v":1e-4},{"t":4.34,"v":1e-4},{"t":4.55,"v":1e-4},{"t":4.76,"v":1e-4},{"t":4.97,"v":1e-4},{"t":5.18,"v":1e-4},{"t":5.39,"v":1e-4},{"t":5.6,"v":1e-4},{"t":5.81,"v":1e-4},{"t":6.02,"v":1e-4},{"t":6.23,"v":1e-4},{"t":6.44,"v":1e-4},{"t":6.65,"v":1e-4},{"t":6.86,"v":1e-4},
{"t":0.12,"v":4.5e-5},{"t":0.18,"v":4.5e-5},{"t":0.5,"v":4.5e-5},{"t":0.62,"v":4.5e-5},{"t":0.85,"v":4.5e-5},{"t":1.12,"v":4.5e-5},{"t":1.4,"v":4.5e-5},{"t":1.55,"v":4.5e-5},{"t":1.75,"v":4.5e-5},{"t":2.1,"v":4.5e-5},{"t":2.3,"v":4.5e-5},{"t":2.5,"v":4.5e-5},{"t":2.78,"v":4.5e-5},{"t":3.0,"v":4.5e-5},{"t":3.35,"v":4.5e-5},{"t":3.6,"v":4.5e-5},{"t":3.9,"v":4.5e-5},{"t":4.2,"v":4.5e-5},{"t":4.5,"v":4.5e-5},{"t":4.8,"v":4.5e-5},{"t":5.2,"v":4.5e-5},{"t":5.5,"v":4.5e-5},{"t":5.75,"v":4.5e-5},{"t":6.1,"v":4.5e-5},{"t":6.3,"v":4.5e-5},{"t":6.7,"v":4.5e-5}],
"he": [{"t":0,"v":0.45},{"t":0,"v":0.28},{"t":0.04,"v":0.38},{"t":0.04,"v":0.22},{"t":0.08,"v":0.52},{"t":0.08,"v":0.3},{"t":0.12,"v":0.33},{"t":0.12,"v":0.25},{"t":0.16,"v":0.6},{"t":0.16,"v":0.4},{"t":0.2,"v":0.42},{"t":0.2,"v":0.27},{"t":0.24,"v":0.36},{"t":0.24,"v":0.22},{"t":0.28,"v":0.5},{"t":0.28,"v":0.3},{"t":0.32,"v":0.3},{"t":0.32,"v":0.45},{"t":0.36,"v":0.55},{"t":0.36,"v":0.25},{"t":0.4,"v":0.4},{"t":0.4,"v":0.28},{"t":0.44,"v":0.62},{"t":0.44,"v":0.34},{"t":0.48,"v":0.35},{"t":0.48,"v":0.22},{"t":0.52,"v":0.47},{"t":0.52,"v":0.3},{"t":0.56,"v":0.28},{"t":0.56,"v":0.4},{"t":0.6,"v":0.53},{"t":0.6,"v":0.24},{"t":0.64,"v":0.36},{"t":0.64,"v":0.45},{"t":0.68,"v":0.3},{"t":0.68,"v":0.22},{"t":0.72,"v":0.42},{"t":0.72,"v":0.58},{"t":0.76,"v":0.26},{"t":0.76,"v":0.35},{"t":0.8,"v":0.48},{"t":0.8,"v":0.3},{"t":0.84,"v":0.38},{"t":0.84,"v":0.25},{"t":0.88,"v":0.62},{"t":0.88,"v":0.42},{"t":0.92,"v":0.33},{"t":0.92,"v":0.27},{"t":0.96,"v":0.45},{"t":0.96,"v":0.3},{"t":1.0,"v":0.55},{"t":1.0,"v":0.35},{"t":1.04,"v":0.4},{"t":1.04,"v":0.28},{"t":1.08,"v":0.65},{"t":1.08,"v":0.45},{"t":1.12,"v":0.5},{"t":1.12,"v":0.32},{"t":1.16,"v":0.7},{"t":1.16,"v":0.42},
{"t":0.02,"v":0.115},{"t":0.06,"v":0.115},{"t":0.1,"v":0.115},{"t":0.22,"v":0.115},{"t":0.26,"v":0.115},{"t":0.3,"v":0.115},{"t":0.42,"v":0.115},{"t":0.46,"v":0.115},{"t":0.5,"v":0.115},{"t":0.54,"v":0.115},{"t":0.62,"v":0.115},{"t":0.66,"v":0.115},{"t":0.74,"v":0.115},{"t":0.78,"v":0.115},{"t":0.82,"v":0.115},{"t":0.94,"v":0.115},{"t":0.98,"v":0.115},{"t":1.02,"v":0.115},{"t":1.1,"v":0.115},{"t":1.14,"v":0.115},
{"t":0.02,"v":0.05},{"t":0.06,"v":0.05},{"t":0.1,"v":0.05},{"t":0.14,"v":0.05},{"t":0.28,"v":0.05},{"t":0.32,"v":0.05},{"t":0.36,"v":0.05},{"t":0.58,"v":0.05},{"t":0.62,"v":0.05},{"t":0.66,"v":0.05},{"t":0.7,"v":0.05},{"t":0.74,"v":0.05},{"t":0.98,"v":0.05},{"t":1.02,"v":0.05},
{"t":1.17,"v":0.8},{"t":1.2,"v":1.5},{"t":1.23,"v":2.2},{"t":1.26,"v":3},{"t":1.29,"v":2.6},{"t":1.32,"v":5},{"t":1.35,"v":7.5},{"t":1.38,"v":11},{"t":1.41,"v":15},{"t":1.44,"v":12},{"t":1.47,"v":14},{"t":1.5,"v":10},{"t":1.53,"v":8.5},{"t":1.56,"v":12},{"t":1.58,"v":22},{"t":1.6,"v":30},{"t":1.63,"v":38},{"t":1.66,"v":48},{"t":1.69,"v":35},{"t":1.72,"v":30},{"t":1.75,"v":40},{"t":1.78,"v":28},{"t":1.81,"v":32},{"t":1.84,"v":26},{"t":1.87,"v":30},{"t":1.9,"v":36},{"t":1.93,"v":28},{"t":1.96,"v":44},{"t":1.99,"v":38},{"t":2.02,"v":20},{"t":2.05,"v":16},{"t":2.08,"v":12},{"t":2.11,"v":11},{"t":2.14,"v":13},{"t":2.17,"v":10},{"t":2.2,"v":12},{"t":2.23,"v":9},{"t":2.26,"v":11},{"t":2.29,"v":8.5},{"t":2.32,"v":10},{"t":2.35,"v":9},{"t":2.38,"v":8},{"t":2.41,"v":10.5},{"t":2.44,"v":8.5},{"t":2.47,"v":9.5},{"t":2.5,"v":11},{"t":2.53,"v":9},{"t":2.56,"v":10},{"t":2.59,"v":7.5},{"t":2.62,"v":9},{"t":2.65,"v":8},{"t":2.68,"v":10},{"t":2.71,"v":7.5},{"t":2.74,"v":9},{"t":2.77,"v":8},{"t":2.8,"v":10},{"t":2.83,"v":30},{"t":2.85,"v":60},{"t":2.87,"v":45},{"t":2.89,"v":110},{"t":2.91,"v":40},{"t":2.93,"v":70},{"t":2.95,"v":35},{"t":2.97,"v":25},{"t":3.0,"v":14},{"t":3.03,"v":12},{"t":3.06,"v":11},{"t":3.09,"v":2.5},{"t":3.1,"v":4},{"t":3.13,"v":10},{"t":3.16,"v":11},{"t":3.19,"v":12},{"t":3.22,"v":10},{"t":3.25,"v":9},{"t":3.28,"v":12},{"t":3.31,"v":11},{"t":3.34,"v":8},{"t":3.37,"v":10},{"t":3.4,"v":5},{"t":3.43,"v":4},{"t":3.46,"v":5.5},{"t":3.49,"v":2.5},{"t":3.52,"v":1.8},{"t":3.55,"v":1.3},{"t":3.58,"v":1.6},{"t":3.61,"v":1.0},{"t":3.64,"v":1.2},{"t":3.67,"v":0.8},{"t":3.7,"v":1.5},{"t":3.73,"v":1.7},{"t":3.76,"v":1.1},{"t":3.79,"v":0.9},{"t":3.82,"v":0.7},{"t":3.85,"v":1.2},{"t":3.88,"v":0.6},{"t":3.91,"v":0.8},{"t":3.94,"v":0.5},{"t":3.97,"v":0.9},{"t":4.0,"v":0.6},{"t":4.03,"v":0.7},{"t":4.06,"v":0.45},{"t":4.09,"v":0.8},{"t":4.12,"v":0.5},{"t":4.15,"v":0.65},{"t":4.18,"v":0.4},{"t":4.21,"v":0.55},{"t":4.24,"v":0.35},{"t":4.27,"v":0.6},{"t":4.3,"v":0.45},{"t":4.33,"v":0.3},{"t":4.36,"v":0.5},{"t":4.39,"v":0.28},{"t":4.42,"v":0.4},{"t":4.45,"v":0.6},{"t":4.48,"v":0.32},{"t":4.51,"v":0.5},{"t":4.54,"v":0.38},{"t":4.57,"v":0.7},{"t":4.6,"v":0.42},{"t":4.63,"v":0.3},{"t":4.66,"v":0.55},{"t":4.69,"v":0.36},{"t":4.72,"v":0.48},{"t":4.75,"v":0.3},{"t":4.78,"v":0.62},{"t":4.81,"v":0.4},{"t":4.84,"v":0.5},{"t":4.87,"v":0.32},{"t":4.9,"v":0.45},{"t":4.93,"v":0.6},{"t":4.96,"v":0.35},{"t":4.99,"v":0.48},{"t":5.02,"v":0.3},{"t":5.05,"v":0.55},{"t":5.08,"v":0.38},{"t":5.11,"v":0.45},{"t":5.14,"v":0.3},{"t":5.17,"v":0.4},{"t":5.2,"v":0.32},{"t":5.23,"v":0.5},{"t":5.26,"v":0.28},{"t":5.29,"v":0.42},{"t":5.32,"v":0.35},{"t":5.35,"v":0.3},{"t":5.38,"v":0.45},{"t":5.41,"v":0.28},{"t":5.44,"v":0.38},{"t":5.47,"v":0.3},{"t":5.5,"v":0.42},{"t":5.53,"v":0.27},{"t":5.56,"v":0.35},{"t":5.59,"v":0.32},{"t":5.62,"v":0.28},{"t":5.65,"v":0.4},{"t":5.68,"v":0.3},{"t":5.71,"v":0.36},{"t":5.74,"v":0.26},{"t":5.77,"v":0.33},{"t":5.8,"v":0.38},{"t":5.83,"v":0.28},{"t":5.86,"v":0.32},{"t":5.89,"v":0.26},
{"t":5.93,"v":0.21},{"t":6.0,"v":0.21},{"t":6.05,"v":0.21},{"t":6.11,"v":0.21},{"t":4.2,"v":0.16},
{"t":4.45,"v":0.11},{"t":4.48,"v":0.11},{"t":4.72,"v":0.11},{"t":4.76,"v":0.11},{"t":4.95,"v":0.11},{"t":5.05,"v":0.11},{"t":5.18,"v":0.11},{"t":5.22,"v":0.11},{"t":5.27,"v":0.11},{"t":5.32,"v":0.11},{"t":5.37,"v":0.11},{"t":5.42,"v":0.11},{"t":5.46,"v":0.11},{"t":5.5,"v":0.11},{"t":5.62,"v":0.11},{"t":5.66,"v":0.11},{"t":5.72,"v":0.11},{"t":5.86,"v":0.11},{"t":5.9,"v":0.11},{"t":5.94,"v":0.11},{"t":5.98,"v":0.11},{"t":6.02,"v":0.11},{"t":6.06,"v":0.11},{"t":6.1,"v":0.11},{"t":6.14,"v":0.11},{"t":6.18,"v":0.11},{"t":6.3,"v":0.11},{"t":6.42,"v":0.11},{"t":6.46,"v":0.11},{"t":6.5,"v":0.11},{"t":6.55,"v":0.11},{"t":6.6,"v":0.11},{"t":6.64,"v":0.11},{"t":6.86,"v":0.11},{"t":6.9,"v":0.11},
{"t":4.48,"v":0.051},{"t":4.5,"v":0.051},{"t":4.64,"v":0.051},{"t":4.66,"v":0.051},{"t":4.99,"v":0.051},{"t":5.15,"v":0.051},{"t":5.17,"v":0.051},{"t":5.24,"v":0.051},{"t":5.28,"v":0.051},{"t":5.32,"v":0.051},{"t":5.41,"v":0.051},{"t":5.45,"v":0.051},{"t":5.5,"v":0.051},{"t":5.58,"v":0.051},{"t":5.62,"v":0.051},{"t":5.66,"v":0.051},{"t":5.69,"v":0.051},{"t":5.92,"v":0.051},{"t":5.95,"v":0.051},{"t":5.98,"v":0.051},{"t":6.01,"v":0.051},{"t":6.04,"v":0.051},{"t":6.07,"v":0.051},{"t":6.1,"v":0.051},{"t":6.13,"v":0.051},{"t":6.16,"v":0.051},{"t":6.19,"v":0.051},{"t":6.22,"v":0.051},{"t":6.25,"v":0.051},{"t":6.28,"v":0.051},{"t":6.31,"v":0.051},{"t":6.34,"v":0.051},{"t":6.37,"v":0.051},{"t":6.4,"v":0.051},{"t":6.43,"v":0.051},{"t":6.46,"v":0.051},{"t":6.49,"v":0.051},{"t":6.52,"v":0.051},{"t":6.55,"v":0.051},{"t":6.58,"v":0.051},{"t":6.61,"v":0.051},{"t":6.64,"v":0.051},{"t":6.67,"v":0.051},{"t":6.7,"v":0.051},{"t":6.73,"v":0.051},{"t":6.76,"v":0.051},{"t":6.79,"v":0.051},{"t":6.82,"v":0.051},{"t":6.85,"v":0.051},{"t":6.88,"v":0.051},{"t":6.91,"v":0.051},{"t":6.94,"v":0.051},{"t":6.97,"v":0.051}],
"cno": [{"t":0,"v":0.011},{"t":0.05,"v":0.011},{"t":0.1,"v":0.011},{"t":0.2,"v":0.011},{"t":0.25,"v":0.011},{"t":0.3,"v":0.011},{"t":0.4,"v":0.011},{"t":0.45,"v":0.011},{"t":0.55,"v":0.011},{"t":0.6,"v":0.011},{"t":0.65,"v":0.011},{"t":0.75,"v":0.011},{"t":0.8,"v":0.011},{"t":0.9,"v":0.011},{"t":0.95,"v":0.011},{"t":1.05,"v":0.011},{"t":1.1,"v":0.011},{"t":1.15,"v":0.011},{"t":1.4,"v":0.011},{"t":1.9,"v":0.011},{"t":2.3,"v":0.011},{"t":2.8,"v":0.011},{"t":3.25,"v":0.011},{"t":3.3,"v":0.011},{"t":3.35,"v":0.011},{"t":3.45,"v":0.011},{"t":3.5,"v":0.011},{"t":3.55,"v":0.011},{"t":3.65,"v":0.011},{"t":3.7,"v":0.011},{"t":3.8,"v":0.011},{"t":3.85,"v":0.011},{"t":3.9,"v":0.011},{"t":4.0,"v":0.011},{"t":4.05,"v":0.011},{"t":4.1,"v":0.011},{"t":4.2,"v":0.011},{"t":4.25,"v":0.011},{"t":4.35,"v":0.011},{"t":4.4,"v":0.011},{"t":4.45,"v":0.011},{"t":4.55,"v":0.011},{"t":4.6,"v":0.011},{"t":4.7,"v":0.011},{"t":4.75,"v":0.011},{"t":4.8,"v":0.011},{"t":4.9,"v":0.011},{"t":4.95,"v":0.011},{"t":5.0,"v":0.011},{"t":5.1,"v":0.011},{"t":5.15,"v":0.011},{"t":5.25,"v":0.011},{"t":5.3,"v":0.011},{"t":5.35,"v":0.011},{"t":5.45,"v":0.011},{"t":5.5,"v":0.011},{"t":5.6,"v":0.011},{"t":5.65,"v":0.011},{"t":5.75,"v":0.011},{"t":5.8,"v":0.011},{"t":5.85,"v":0.011},{"t":5.95,"v":0.011},{"t":6.0,"v":0.011},{"t":6.1,"v":0.011},{"t":6.2,"v":0.011},{"t":6.25,"v":0.011},{"t":6.55,"v":0.011},{"t":6.6,"v":0.011},{"t":6.9,"v":0.011},{"t":6.95,"v":0.011},
{"t":0,"v":0.022},{"t":0.35,"v":0.022},{"t":1.08,"v":0.022},{"t":1.1,"v":0.022},{"t":1.12,"v":0.022},{"t":1.14,"v":0.022},{"t":1.16,"v":0.022},{"t":3.45,"v":0.022},{"t":3.5,"v":0.022},{"t":3.55,"v":0.022},{"t":3.6,"v":0.022},{"t":3.65,"v":0.022},{"t":3.7,"v":0.022},{"t":3.75,"v":0.022},{"t":3.8,"v":0.022},{"t":3.85,"v":0.022},{"t":3.95,"v":0.022},{"t":4.0,"v":0.022},{"t":4.05,"v":0.022},{"t":4.1,"v":0.022},{"t":4.15,"v":0.022},{"t":4.2,"v":0.022},{"t":4.3,"v":0.022},{"t":4.35,"v":0.022},{"t":4.45,"v":0.022},{"t":4.55,"v":0.022},{"t":4.6,"v":0.022},{"t":4.65,"v":0.022},{"t":4.75,"v":0.022},{"t":4.8,"v":0.022},{"t":4.9,"v":0.022},{"t":5.0,"v":0.022},{"t":5.1,"v":0.022},{"t":5.15,"v":0.022},{"t":5.25,"v":0.022},{"t":5.3,"v":0.022},{"t":5.5,"v":0.022},{"t":5.55,"v":0.022},{"t":5.6,"v":0.022},{"t":5.75,"v":0.022},{"t":5.8,"v":0.022},{"t":5.9,"v":0.022},
{"t":3.42,"v":0.033},{"t":3.5,"v":0.033},{"t":3.58,"v":0.033},{"t":3.65,"v":0.033},{"t":3.72,"v":0.033},{"t":3.8,"v":0.033},{"t":3.88,"v":0.033},{"t":3.95,"v":0.033},{"t":4.05,"v":0.033},{"t":4.18,"v":0.033},{"t":4.3,"v":0.033},{"t":4.42,"v":0.033},{"t":4.55,"v":0.033},{"t":4.7,"v":0.033},
{"t":1.17,"v":0.05},{"t":1.2,"v":0.06},{"t":1.23,"v":0.045},{"t":1.26,"v":0.09},{"t":1.29,"v":0.12},{"t":1.32,"v":0.1},{"t":1.35,"v":0.2},{"t":1.38,"v":0.3},{"t":1.41,"v":0.25},{"t":1.44,"v":0.35},{"t":1.47,"v":0.28},{"t":1.5,"v":0.3},{"t":1.53,"v":0.22},{"t":1.56,"v":0.26},{"t":1.58,"v":0.6},{"t":1.61,"v":0.75},{"t":1.64,"v":0.9},{"t":1.66,"v":1.3},{"t":1.69,"v":0.8},{"t":1.72,"v":0.7},{"t":1.75,"v":0.95},{"t":1.78,"v":0.6},{"t":1.81,"v":0.75},{"t":1.84,"v":0.65},{"t":1.87,"v":0.8},{"t":1.9,"v":0.55},{"t":1.93,"v":0.7},{"t":1.96,"v":1.0},{"t":1.99,"v":0.85},{"t":2.02,"v":0.4},{"t":2.05,"v":0.3},{"t":2.08,"v":0.28},{"t":2.11,"v":0.35},{"t":2.14,"v":0.22},{"t":2.17,"v":0.3},{"t":2.2,"v":0.25},{"t":2.23,"v":0.2},{"t":2.26,"v":0.32},{"t":2.29,"v":0.22},{"t":2.32,"v":0.27},{"t":2.35,"v":0.18},{"t":2.38,"v":0.3},{"t":2.41,"v":0.24},{"t":2.44,"v":0.2},{"t":2.47,"v":0.28},{"t":2.5,"v":0.16},{"t":2.53,"v":0.25},{"t":2.56,"v":0.2},{"t":2.59,"v":0.3},{"t":2.62,"v":0.14},{"t":2.65,"v":0.22},{"t":2.68,"v":0.18},{"t":2.71,"v":0.25},{"t":2.74,"v":0.15},{"t":2.77,"v":0.2},{"t":2.8,"v":0.3},{"t":2.83,"v":0.5},{"t":2.85,"v":0.9},{"t":2.87,"v":1.1},{"t":2.89,"v":1.7},{"t":2.91,"v":0.8},{"t":2.93,"v":0.6},{"t":2.95,"v":0.4},{"t":2.97,"v":0.25},{"t":3.0,"v":0.15},{"t":3.03,"v":0.2},{"t":3.06,"v":0.28},{"t":3.09,"v":0.05},{"t":3.12,"v":0.15},{"t":3.15,"v":0.2},{"t":3.18,"v":0.25},{"t":3.21,"v":0.3},{"t":3.24,"v":0.22},{"t":3.27,"v":0.18},{"t":3.3,"v":0.25},{"t":3.33,"v":0.12},{"t":3.36,"v":0.2},{"t":3.39,"v":0.15},{"t":3.42,"v":0.08},{"t":3.45,"v":0.1},{"t":3.48,"v":0.07},{"t":3.51,"v":0.09},{"t":3.54,"v":0.06},{"t":3.57,"v":0.08},{"t":3.6,"v":0.05},{"t":3.66,"v":0.05},{"t":3.72,"v":0.05},{"t":3.75,"v":0.06},{"t":3.98,"v":0.05},
{"t":1.3,"v":0.15},{"t":1.4,"v":0.33},{"t":1.48,"v":0.22},{"t":1.62,"v":0.55},{"t":1.7,"v":1.0},{"t":1.8,"v":0.9},{"t":1.9,"v":0.8},{"t":2.1,"v":0.24},{"t":2.3,"v":0.35},{"t":2.5,"v":0.3},{"t":2.7,"v":0.2},{"t":2.9,"v":1.2}],
"fe": [{"t":0.08,"v":0.011},{"t":0.18,"v":0.011},{"t":0.35,"v":0.011},{"t":0.5,"v":0.011},{"t":0.7,"v":0.011},{"t":0.85,"v":0.011},{"t":1.0,"v":0.011},{"t":1.2,"v":0.011},{"t":1.23,"v":0.011},{"t":1.26,"v":0.011},{"t":1.29,"v":0.011},{"t":1.32,"v":0.011},{"t":1.35,"v":0.011},{"t":1.38,"v":0.011},{"t":1.41,"v":0.011},{"t":1.44,"v":0.011},{"t":1.47,"v":0.011},{"t":1.5,"v":0.011},{"t":1.53,"v":0.011},{"t":1.56,"v":0.011},{"t":1.59,"v":0.011},{"t":1.62,"v":0.011},{"t":1.65,"v":0.011},{"t":1.68,"v":0.011},{"t":1.71,"v":0.011},{"t":1.74,"v":0.011},{"t":1.77,"v":0.011},{"t":1.8,"v":0.011},{"t":1.83,"v":0.011},{"t":1.86,"v":0.011},{"t":1.92,"v":0.011},{"t":1.95,"v":0.011},{"t":1.98,"v":0.011},{"t":2.01,"v":0.011},{"t":2.04,"v":0.011},{"t":2.07,"v":0.011},{"t":2.1,"v":0.011},{"t":2.13,"v":0.011},{"t":2.16,"v":0.011},{"t":2.19,"v":0.011},{"t":2.22,"v":0.011},{"t":2.25,"v":0.011},{"t":2.28,"v":0.011},{"t":2.34,"v":0.011},{"t":2.37,"v":0.011},{"t":2.4,"v":0.011},{"t":2.43,"v":0.011},{"t":2.46,"v":0.011},{"t":2.49,"v":0.011},{"t":2.52,"v":0.011},{"t":2.55,"v":0.011},{"t":2.58,"v":0.011},{"t":2.61,"v":0.011},{"t":2.64,"v":0.011},{"t":2.67,"v":0.011},{"t":2.7,"v":0.011},{"t":2.73,"v":0.011},{"t":2.76,"v":0.011},{"t":2.79,"v":0.011},{"t":2.82,"v":0.011},{"t":2.85,"v":0.011},{"t":2.88,"v":0.011},{"t":2.91,"v":0.011},{"t":2.94,"v":0.011},{"t":2.97,"v":0.011},{"t":3.0,"v":0.011},{"t":3.03,"v":0.011},{"t":3.06,"v":0.011},{"t":3.09,"v":0.011},{"t":3.12,"v":0.011},{"t":3.15,"v":0.011},{"t":3.2,"v":0.011},{"t":3.4,"v":0.011},{"t":3.6,"v":0.011},{"t":3.75,"v":0.011},{"t":3.95,"v":0.011},{"t":4.15,"v":0.011},{"t":4.3,"v":0.011},{"t":4.5,"v":0.011},{"t":4.65,"v":0.011},{"t":4.85,"v":0.011},{"t":5.05,"v":0.011},{"t":5.2,"v":0.011},{"t":5.4,"v":0.011},{"t":5.55,"v":0.011},{"t":5.7,"v":0.011},{"t":5.9,"v":0.011},{"t":6.05,"v":0.011},{"t":6.15,"v":0.011},{"t":6.27,"v":0.011},{"t":6.68,"v":0.011},{"t":6.72,"v":0.011},
{"t":1.36,"v":0.022},{"t":1.42,"v":0.022},{"t":1.47,"v":0.022},{"t":1.52,"v":0.022},{"t":1.6,"v":0.022},{"t":1.66,"v":0.022},{"t":1.74,"v":0.022},{"t":1.8,"v":0.022},{"t":1.86,"v":0.022},{"t":1.93,"v":0.022},{"t":2.02,"v":0.022},{"t":2.08,"v":0.022},{"t":2.16,"v":0.022},{"t":2.2,"v":0.022},{"t":2.3,"v":0.022},{"t":2.36,"v":0.022},{"t":2.45,"v":0.022},{"t":2.5,"v":0.022},{"t":2.58,"v":0.022},{"t":2.66,"v":0.022},{"t":2.72,"v":0.022},{"t":2.8,"v":0.022},{"t":2.9,"v":0.022},{"t":2.96,"v":0.022},{"t":3.04,"v":0.022},{"t":3.1,"v":0.022},{"t":3.18,"v":0.022},{"t":3.25,"v":0.022},{"t":3.3,"v":0.022},{"t":3.38,"v":0.022},{"t":3.45,"v":0.022},{"t":3.55,"v":0.022},{"t":3.7,"v":0.022},{"t":3.85,"v":0.022},{"t":4.0,"v":0.022},{"t":4.08,"v":0.022},
{"t":1.3,"v":0.033},{"t":1.45,"v":0.033},{"t":1.65,"v":0.033},{"t":1.9,"v":0.033},{"t":2.15,"v":0.033},{"t":2.4,"v":0.033},{"t":2.65,"v":0.033},{"t":2.95,"v":0.033},{"t":3.15,"v":0.033},
{"t":1.34,"v":0.05},{"t":1.38,"v":0.06},{"t":1.44,"v":0.05},{"t":1.5,"v":0.055},{"t":1.58,"v":0.1},{"t":1.6,"v":0.12},{"t":1.63,"v":0.07},{"t":1.66,"v":0.09},{"t":1.7,"v":0.06},{"t":1.72,"v":0.075},{"t":1.75,"v":0.05},{"t":1.78,"v":0.065},{"t":1.8,"v":0.05},{"t":1.83,"v":0.06},{"t":1.86,"v":0.08},{"t":1.89,"v":0.055},{"t":1.92,"v":0.12},{"t":1.95,"v":0.07},{"t":1.97,"v":0.05},{"t":2.84,"v":0.06},{"t":2.86,"v":0.08},{"t":2.88,"v":0.15},{"t":2.9,"v":0.06},{"t":2.92,"v":0.05}],
"he4r": [{"t":0,"v":1e-4},{"t":0.06,"v":1e-4},{"t":0.12,"v":1e-4},{"t":0.18,"v":1e-4},{"t":0.24,"v":1e-4},{"t":0.3,"v":1e-4},{"t":0.36,"v":1e-4},{"t":0.42,"v":1e-4},{"t":0.48,"v":1e-4},{"t":0.54,"v":1e-4},{"t":0.72,"v":1e-4},{"t":0.78,"v":1e-4},{"t":0.84,"v":1e-4},{"t":0.9,"v":1e-4},{"t":0.96,"v":1e-4},{"t":1.02,"v":1e-4},{"t":1.08,"v":1e-4},{"t":1.14,"v":1e-4},{"t":1.2,"v":1e-4},{"t":1.26,"v":1e-4},{"t":1.38,"v":1e-4},{"t":1.44,"v":1e-4},{"t":1.5,"v":1e-4},{"t":1.56,"v":1e-4},{"t":1.62,"v":1e-4},{"t":1.68,"v":1e-4},{"t":1.74,"v":1e-4},{"t":1.8,"v":1e-4},{"t":1.86,"v":1e-4},{"t":1.92,"v":1e-4},{"t":1.98,"v":1e-4},{"t":2.04,"v":1e-4},{"t":2.1,"v":1e-4},{"t":2.16,"v":1e-4},{"t":2.22,"v":1e-4},{"t":2.34,"v":1e-4},{"t":2.4,"v":1e-4},{"t":2.46,"v":1e-4},{"t":2.52,"v":1e-4},{"t":2.58,"v":1e-4},{"t":2.64,"v":1e-4},{"t":2.76,"v":1e-4},{"t":2.82,"v":1e-4},{"t":2.88,"v":1e-4},{"t":2.94,"v":1e-4},{"t":3.0,"v":1e-4},{"t":3.06,"v":1e-4},{"t":3.12,"v":1e-4},{"t":3.18,"v":1e-4},{"t":3.24,"v":1e-4},{"t":3.3,"v":1e-4},{"t":3.36,"v":1e-4},{"t":3.42,"v":1e-4},{"t":3.48,"v":1e-4},{"t":3.54,"v":1e-4},{"t":3.6,"v":1e-4},{"t":3.66,"v":1e-4},{"t":3.72,"v":1e-4},{"t":3.78,"v":1e-4},{"t":3.84,"v":1e-4},{"t":3.9,"v":1e-4},{"t":3.96,"v":1e-4},{"t":4.02,"v":1e-4},{"t":4.08,"v":1e-4},{"t":4.14,"v":1e-4},{"t":4.2,"v":1e-4},{"t":4.26,"v":1e-4},{"t":4.32,"v":1e-4},{"t":4.5,"v":1e-4},{"t":4.56,"v":1e-4},{"t":4.62,"v":1e-4},{"t":4.68,"v":1e-4},{"t":4.74,"v":1e-4},{"t":4.8,"v":1e-4},{"t":4.86,"v":1e-4},{"t":4.92,"v":1e-4},{"t":4.98,"v":1e-4},{"t":5.04,"v":1e-4},{"t":5.28,"v":1e-4},{"t":5.34,"v":1e-4},{"t":5.4,"v":1e-4},{"t":5.46,"v":1e-4},{"t":5.52,"v":1e-4},{"t":5.58,"v":1e-4},{"t":5.64,"v":1e-4},{"t":5.7,"v":1e-4},{"t":5.76,"v":1e-4},{"t":5.82,"v":1e-4},{"t":5.94,"v":1e-4},{"t":6.0,"v":1e-4},{"t":6.12,"v":1e-4},{"t":6.18,"v":1e-4},{"t":6.24,"v":1e-4},{"t":6.3,"v":1e-4},{"t":6.36,"v":1e-4},{"t":6.42,"v":1e-4},{"t":6.48,"v":1e-4}],
"cno4r": [{"t":0.6,"v":1e-4},{"t":0.66,"v":1e-4},{"t":1.32,"v":1e-4},{"t":2.28,"v":1e-4},{"t":2.7,"v":1e-4},{"t":5.1,"v":1e-4},{"t":5.16,"v":1e-4},{"t":5.22,"v":1e-4},{"t":5.88,"v":1e-4},{"t":6.06,"v":1e-4}],
"he4": [{"t":0.01,"v":2.8e-4},{"t":0.1,"v":2e-4},{"t":0.13,"v":2e-4},{"t":0.26,"v":2e-4},{"t":0.35,"v":2.2e-4},{"t":0.41,"v":2e-4},{"t":0.45,"v":2e-4},{"t":0.6,"v":2.2e-4},{"t":0.64,"v":2e-4},{"t":0.67,"v":2e-4},{"t":0.78,"v":2e-4},{"t":0.82,"v":2e-4},{"t":0.86,"v":2e-4},{"t":0.9,"v":2e-4},{"t":0.94,"v":2e-4},{"t":0.98,"v":2e-4},{"t":1.02,"v":2e-4},{"t":1.06,"v":2e-4},{"t":1.1,"v":2e-4},{"t":1.14,"v":2e-4},{"t":1.28,"v":2e-4},{"t":1.34,"v":2e-4},{"t":1.42,"v":2e-4},{"t":1.46,"v":2.2e-4},{"t":1.5,"v":2e-4},{"t":1.54,"v":2e-4},{"t":1.58,"v":2.5e-4},{"t":1.62,"v":4.5e-4},{"t":1.64,"v":5e-4},{"t":1.66,"v":4e-4},{"t":1.7,"v":2.5e-4},{"t":1.74,"v":2e-4},{"t":1.78,"v":3e-4},{"t":1.82,"v":2e-4},{"t":1.86,"v":2e-4},{"t":1.9,"v":3e-4},{"t":1.94,"v":2e-4},{"t":2.08,"v":2e-4},{"t":2.12,"v":3e-4},{"t":2.16,"v":2e-4},{"t":2.22,"v":2.5e-4},{"t":2.28,"v":2e-4},{"t":2.32,"v":2e-4},{"t":2.4,"v":3e-4},{"t":2.44,"v":2e-4},{"t":2.5,"v":3e-4},{"t":2.55,"v":2e-4},{"t":2.6,"v":2.5e-4},{"t":2.64,"v":2e-4},{"t":2.76,"v":2e-4},{"t":2.8,"v":3e-4},{"t":3.27,"v":2e-4},{"t":3.32,"v":2e-4},{"t":3.56,"v":2e-4},{"t":3.62,"v":2e-4},{"t":3.68,"v":2e-4},{"t":3.82,"v":2e-4},{"t":3.88,"v":2e-4},{"t":4.99,"v":2e-4},{"t":5.99,"v":2e-4},{"t":6.05,"v":3e-4},{"t":6.21,"v":2e-4},{"t":6.4,"v":2e-4},{"t":6.87,"v":2e-4}],
"cno4": [{"t":0.35,"v":1.2e-5},{"t":0.78,"v":1.2e-5},{"t":1.04,"v":1.2e-5},{"t":1.67,"v":1.2e-5},{"t":2.0,"v":1.2e-5},{"t":2.3,"v":1.2e-5},{"t":2.51,"v":1.2e-5},{"t":2.65,"v":1.2e-5},{"t":3.56,"v":1.2e-5},{"t":4.35,"v":1.2e-5},{"t":4.97,"v":1.2e-5},{"t":6.34,"v":1.2e-5}]
},
"vconcat": [
{
 "width": 697, "height": 180,
 "layer": [
  {"data": {"name": "e1"}, "mark": {"type": "line", "strokeWidth": 3},
   "encoding": {
    "x": {"field": "t", "type": "quantitative", "scale": {"domain": [0, 7], "nice": false, "zero": false}, "axis": {"orient": "bottom", "values": [0,0.5,1,1.5,2,2.5,3,3.5,4,4.5,5,5.5,6,6.5,7], "labels": false, "tickSize": -4, "title": null}},
    "y": {"field": "v", "type": "quantitative", "scale": {"type": "log", "domain": [0.001, 10000000], "nice": false}, "axis": {"orient": "left", "values": [0.001,0.01,0.1,1,10,100,1000,10000,100000,1000000,10000000], "labelExpr": "datum.value == 1000000 ? '10⁶' : datum.value == 10000 ? '10⁴' : datum.value == 100 ? '10²' : datum.value == 1 ? '10⁰' : datum.value == 0.01 ? '10⁻²' : ''", "tickSize": {"condition": {"test": "round(log(datum.value)/LN10) % 2 != 0", "value": -7}, "value": -15}, "labelPadding": 22, "title": "1/(cm² s sr MeV)", "titleX": -47, "titleY": 90, "titleAngle": 270, "titleAlign": "center", "titleBaseline": "middle"}},
    "color": {"datum": "0.035 to 0.065 MeV Electrons", "type": "nominal", "scale": {"domain": ["0.035 to 0.065 MeV Electrons", "0.7 to 4.0 Mev Electrons"], "range": ["#000000", "#0000ff"]},
      "legend": {"title": null, "orient": "top", "direction": "horizontal", "offset": 1, "padding": 0, "symbolSize": 0, "symbolStrokeWidth": 0, "symbolOpacity": 0, "labelOffset": -14, "labelFontSize": 14, "labelFont": "DejaVu Sans", "labelLimit": 500, "columnPadding": 43, "labelColor": {"expr": "datum.label == '0.7 to 4.0 Mev Electrons' ? '#0000ff' : '#000000'"}}}
   }},
  {"data": {"name": "e2"}, "mark": {"type": "square", "size": 11, "opacity": 1},
   "encoding": {
    "x": {"field": "t", "type": "quantitative", "axis": {"orient": "top", "values": [0,0.5,1,1.5,2,2.5,3,3.5,4,4.5,5,5.5,6,6.5,7], "labels": false, "tickSize": -4, "title": null}},
    "y": {"field": "v", "type": "quantitative", "axis": {"orient": "right", "values": [0.001,0.01,0.1,1,10,100,1000,10000,100000,1000000,10000000], "labels": false, "tickSize": {"condition": {"test": "round(log(datum.value)/LN10) % 2 != 0", "value": -7}, "value": -15}, "title": null}},
    "color": {"datum": "0.7 to 4.0 Mev Electrons", "type": "nominal"}
   }}
 ],
 "resolve": {"axis": {"x": "independent", "y": "independent"}}
},
{
 "width": 697, "height": 180,
 "layer": [
  {"data": {"name": "h1"}, "mark": {"type": "line", "strokeWidth": 3},
   "encoding": {
    "x": {"field": "t", "type": "quantitative", "scale": {"domain": [0, 7], "nice": false, "zero": false}, "axis": {"orient": "bottom", "values": [0,0.5,1,1.5,2,2.5,3,3.5,4,4.5,5,5.5,6,6.5,7], "labels": false, "tickSize": -4, "title": null}},
    "y": {"field": "v", "type": "quantitative", "scale": {"type": "log", "domain": [0.00001, 1000000], "nice": false}, "axis": {"orient": "left", "values": [0.00001,0.0001,0.001,0.01,0.1,1,10,100,1000,10000,100000,1000000], "labelExpr": "datum.value == 1000000 ? '10⁶' : datum.value == 10000 ? '10⁴' : datum.value == 100 ? '10²' : datum.value == 1 ? '10⁰' : datum.value == 0.01 ? '10⁻²' : datum.value == 0.0001 ? '10⁻⁴' : ''", "tickSize": {"condition": {"test": "round(log(datum.value)/LN10) % 2 != 0", "value": -7}, "value": -15}, "labelPadding": 22, "title": "1/(cm² s sr MeV)", "titleX": -47, "titleY": 90, "titleAngle": 270, "titleAlign": "center", "titleBaseline": "middle"}},
    "color": {"datum": "0.14-0.62 MeV H", "type": "nominal", "scale": {"domain": ["0.14-0.62 MeV H", "0.62-2.22 MeV H", "2.2-12 MeV H", "13-100 MeV H"], "range": ["#000000", "#0000ff", "#c98467", "#ff0000"]},
      "legend": {"title": null, "orient": "top", "direction": "horizontal", "offset": 1, "padding": 0, "symbolSize": 0, "symbolStrokeWidth": 0, "symbolOpacity": 0, "labelOffset": -14, "labelFontSize": 14, "labelFont": "DejaVu Sans", "labelLimit": 500, "columnPadding": 26, "labelColor": {"expr": "datum.label == '0.62-2.22 MeV H' ? '#0000ff' : datum.label == '2.2-12 MeV H' ? '#c98467' : datum.label == '13-100 MeV H' ? '#ff0000' : '#000000'"}}}
   }},
  {"data": {"name": "h2"}, "mark": {"type": "line", "strokeWidth": 3},
   "encoding": {
    "x": {"field": "t", "type": "quantitative", "axis": {"orient": "top", "values": [0,0.5,1,1.5,2,2.5,3,3.5,4,4.5,5,5.5,6,6.5,7], "labels": false, "tickSize": -4, "title": null}},
    "y": {"field": "v", "type": "quantitative", "axis": {"orient": "right", "values": [0.00001,0.0001,0.001,0.01,0.1,1,10,100,1000,10000,100000,1000000], "labels": false, "tickSize": {"condition": {"test": "round(log(datum.value)/LN10) % 2 != 0", "value": -7}, "value": -15}, "title": null}},
    "color": {"datum": "0.62-2.22 MeV H", "type": "nominal"}
   }},
  {"data": {"name": "h3"}, "mark": {"type": "line", "strokeWidth": 2.8},
   "encoding": {
    "x": {"field": "t", "type": "quantitative", "axis": null},
    "y": {"field": "v", "type": "quantitative", "axis": null},
    "color": {"datum": "2.2-12 MeV H", "type": "nominal"}
   }},
  {"data": {"name": "h4"}, "mark": {"type": "tick", "orient": "horizontal", "size": 6, "thickness": 2.4, "opacity": 1},
   "encoding": {
    "x": {"field": "t", "type": "quantitative", "axis": null},
    "y": {"field": "v", "type": "quantitative", "axis": null},
    "color": {"datum": "13-100 MeV H", "type": "nominal"}
   }}
 ],
 "resolve": {"axis": {"x": "independent", "y": "independent"}}
},
{
 "width": 697, "height": 180,
 "layer": [
  {"data": {"name": "he"}, "mark": {"type": "tick", "orient": "horizontal", "size": 4, "thickness": 2.5, "opacity": 1},
   "encoding": {
    "x": {"field": "t", "type": "quantitative", "scale": {"domain": [0, 7], "nice": false, "zero": false}, "axis": {"orient": "bottom", "values": [0,0.5,1,1.5,2,2.5,3,3.5,4,4.5,5,5.5,6,6.5,7], "labels": false, "tickSize": -4, "title": null}},
    "y": {"field": "v", "type": "quantitative", "scale": {"type": "log", "domain": [0.001, 10000], "nice": false}, "axis": {"orient": "left", "values": [0.001,0.01,0.1,1,10,100,1000,10000], "labelExpr": "datum.value == 10000 ? '10⁴' : datum.value == 1000 ? '10³' : datum.value == 100 ? '10²' : datum.value == 10 ? '10¹' : datum.value == 1 ? '10⁰' : datum.value == 0.1 ? '10⁻¹' : datum.value == 0.01 ? '10⁻²' : '10⁻³'", "tickSize": -15, "labelPadding": 22, "title": "1/(cm² s sr MeV/nuc.)", "titleX": -47, "titleY": 90, "titleAngle": 270, "titleAlign": "center", "titleBaseline": "middle"}},
    "color": {"datum": "0.12-1.08 MeV/n He", "type": "nominal", "scale": {"domain": ["0.12-1.08 MeV/n He", "0.12-1.08 MeV/n CNO", "0.12-1.08 MeV Fe"], "range": ["#000000", "#0000ff", "#ff0000"]},
      "legend": {"title": null, "orient": "top", "direction": "horizontal", "offset": 1, "padding": 0, "symbolSize": 0, "symbolStrokeWidth": 0, "symbolOpacity": 0, "labelOffset": -14, "labelFontSize": 14, "labelFont": "DejaVu Sans", "labelLimit": 500, "columnPadding": 26, "labelColor": {"expr": "datum.label == '0.12-1.08 MeV/n CNO' ? '#0000ff' : datum.label == '0.12-1.08 MeV Fe' ? '#ff0000' : '#000000'"}}}
   }},
  {"data": {"name": "cno"}, "mark": {"type": "tick", "orient": "horizontal", "size": 4, "thickness": 2.5, "opacity": 1},
   "encoding": {
    "x": {"field": "t", "type": "quantitative", "axis": {"orient": "top", "values": [0,0.5,1,1.5,2,2.5,3,3.5,4,4.5,5,5.5,6,6.5,7], "labels": false, "tickSize": -4, "title": null}},
    "y": {"field": "v", "type": "quantitative", "axis": {"orient": "right", "values": [0.001,0.01,0.1,1,10,100,1000,10000], "labels": false, "tickSize": -15, "title": null}},
    "color": {"datum": "0.12-1.08 MeV/n CNO", "type": "nominal"}
   }},
  {"data": {"name": "fe"}, "mark": {"type": "tick", "orient": "horizontal", "size": 4, "thickness": 2.5, "opacity": 1},
   "encoding": {
    "x": {"field": "t", "type": "quantitative", "axis": null},
    "y": {"field": "v", "type": "quantitative", "axis": null},
    "color": {"datum": "0.12-1.08 MeV Fe", "type": "nominal"}
   }}
 ],
 "resolve": {"axis": {"x": "independent", "y": "independent"}}
},
{
 "width": 697, "height": 180,
 "layer": [
  {"data": {"name": "he4r"}, "mark": {"type": "tick", "orient": "horizontal", "size": 5, "thickness": 1.3, "opacity": 1},
   "encoding": {
    "x": {"field": "t", "type": "quantitative", "scale": {"domain": [0, 7], "nice": false, "zero": false}, "axis": {"orient": "bottom", "values": [0,0.5,1,1.5,2,2.5,3,3.5,4,4.5,5,5.5,6,6.5,7], "tickSize": -4, "labelExpr": "datum.value % 2 == 0 && datum.value < 7 ? (11 + datum.value) + '-Mar' : ''", "labelFontSize": 13, "labelPadding": 12.5, "labelFlush": false, "title": "STEREO Ahead", "titleAnchor": "start", "titleAlign": "left", "titleBaseline": "top", "titleY": 24, "titleFontSize": 12.5}},
    "y": {"field": "v", "type": "quantitative", "scale": {"type": "log", "domain": [0.00001, 1000], "nice": false}, "axis": {"orient": "left", "values": [0.00001,0.0001,0.001,0.01,0.1,1,10,100,1000], "labelExpr": "datum.value == 100 ? '10²' : datum.value == 1 ? '10⁰' : datum.value == 0.01 ? '10⁻²' : datum.value == 0.0001 ? '10⁻⁴' : ''", "tickSize": {"condition": {"test": "round(log(datum.value)/LN10) % 2 != 0", "value": -7}, "value": -15}, "labelPadding": 22, "title": "1/(cm² s sr MeV/nuc.)", "titleX": -47, "titleY": 90, "titleAngle": 270, "titleAlign": "center", "titleBaseline": "middle"}},
    "color": {"datum": "4 to 12 MeV/n He", "type": "nominal", "scale": {"domain": ["4 to 12 MeV/n He", "4 to 12 MeV/n CNO", "4 to 12 MeV Fe"], "range": ["#000000", "#0000ff", "#ff0000"]},
      "legend": {"title": null, "orient": "top", "direction": "horizontal", "offset": 1, "padding": 0, "symbolSize": 0, "symbolStrokeWidth": 0, "symbolOpacity": 0, "labelOffset": -14, "labelFontSize": 14, "labelFont": "DejaVu Sans", "labelLimit": 500, "columnPadding": 26, "labelColor": {"expr": "datum.label == '4 to 12 MeV/n CNO' ? '#0000ff' : datum.label == '4 to 12 MeV Fe' ? '#ff0000' : '#000000'"}}}
   }},
  {"data": {"name": "cno4"}, "mark": {"type": "square", "size": 5, "opacity": 1},
   "encoding": {
    "x": {"field": "t", "type": "quantitative", "axis": {"orient": "top", "values": [0,0.5,1,1.5,2,2.5,3,3.5,4,4.5,5,5.5,6,6.5,7], "labels": false, "tickSize": -4, "title": null}},
    "y": {"field": "v", "type": "quantitative", "axis": {"orient": "right", "values": [0.00001,0.0001,0.001,0.01,0.1,1,10,100,1000], "labels": false, "tickSize": {"condition": {"test": "round(log(datum.value)/LN10) % 2 != 0", "value": -7}, "value": -15}, "title": null}},
    "color": {"datum": "4 to 12 MeV/n CNO", "type": "nominal"}
   }},
  {"data": {"name": "he4"}, "mark": {"type": "square", "size": 5, "opacity": 1},
   "encoding": {
    "x": {"field": "t", "type": "quantitative", "axis": null},
    "y": {"field": "v", "type": "quantitative", "axis": null},
    "color": {"datum": "4 to 12 MeV/n He", "type": "nominal"}
   }},
  {"data": {"name": "cno4r"}, "mark": {"type": "tick", "orient": "horizontal", "size": 5, "thickness": 1.3, "opacity": 1},
   "encoding": {
    "x": {"field": "t", "type": "quantitative", "axis": null},
    "y": {"field": "v", "type": "quantitative", "axis": null},
    "color": {"datum": "4 to 12 MeV/n CNO", "type": "nominal"}
   }}
 ],
 "resolve": {"axis": {"x": "independent", "y": "independent"}}
}
]
}
